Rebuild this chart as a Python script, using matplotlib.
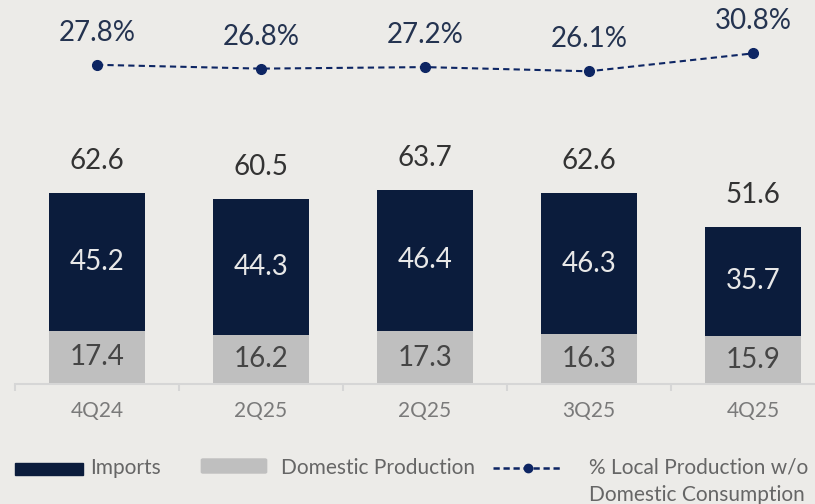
import numpy as np
import matplotlib.pyplot as plt
from matplotlib.patches import Rectangle, FancyBboxPatch
from matplotlib.lines import Line2D
from matplotlib import font_manager

quarters = ['4Q24', '2Q25', '2Q25', '3Q25', '4Q25']
imports = [45.2, 44.3, 46.4, 46.3, 35.7]
domestic = [17.4, 16.2, 17.3, 16.3, 15.9]
totals = [62.6, 60.5, 63.7, 62.6, 51.6]
local_pct = [27.8, 26.8, 27.2, 26.1, 30.8]

names = {f.name for f in font_manager.fontManager.ttflist}
num_font = ['Lato', 'DejaVu Sans'] if 'Lato' in names else ['DejaVu Sans']
leg_font = num_font

navy = '#0b1c3c'
gray = '#bfbfbf'
line_c = '#0d2563'
bg = '#ecebe8'

W, H = 815, 504
fig = plt.figure(figsize=(W / 100, H / 100), dpi=100, facecolor=bg)

# bar axes: x from 15px, 164px per category, baseline at 384px, 3.05 px/unit
left = 15 / W
width = 820 / W
bottom = (H - 384) / H
height = 305 / H
ax = fig.add_axes([left, bottom, width, height])
ax.set_facecolor('none')
x = np.arange(len(quarters))
ax.bar(x, domestic, width=0.59, color=gray, zorder=2)
ax.bar(x, imports, width=0.59, bottom=domestic, color=navy, zorder=2)
ax.set_xlim(-0.5, len(quarters) - 0.5)
ax.set_ylim(0, 100)

for i in range(len(quarters)):
    ax.text(x[i], domestic[i] / 2, f'{domestic[i]:.1f}', ha='center', va='center',
            fontsize=20, color='#454545', family=num_font)
    ax.text(x[i], domestic[i] + imports[i] / 2, f'{imports[i]:.1f}', ha='center', va='center',
            fontsize=20, color='#e8e8e8', family=num_font)
    ax.annotate(f'{totals[i]:.1f}', (x[i], domestic[i] + imports[i]), xytext=(0, 32),
                textcoords='offset pixels', ha='center', va='center',
                fontsize=20, color='#333333', family=num_font)

for s in ['top', 'right', 'left']:
    ax.spines[s].set_visible(False)
ax.spines['bottom'].set_color('#d6d6d6')
ax.spines['bottom'].set_linewidth(1.5)
ax.set_yticks([])
ax.set_xticks(x)
ax.set_xticklabels(quarters, family=num_font, fontsize=15, color='#7a7a7a')
ax.tick_params(axis='x', which='major', length=0, pad=12)
ax.set_xticks(np.arange(-0.5, len(quarters), 1), minor=True)
ax.tick_params(axis='x', which='minor', length=5, color='#d6d6d6', width=1.5)

# line axes at top
ax2 = fig.add_axes([left, (H - 85) / H, width, 40 / H])
ax2.set_facecolor('none')
ax2.plot(x, local_pct, color=line_c, linestyle=(0, (3, 2)), linewidth=1.5,
         marker='o', markersize=7, zorder=3)
ax2.set_xlim(-0.5, len(quarters) - 0.5)
ax2.set_ylim(22.5, 33.0)
ax2.axis('off')
for i, v in enumerate(local_pct):
    ax2.annotate(f'{v:.1f}%', (x[i], v), xytext=(0, 32), textcoords='offset pixels',
                 ha='center', va='center', fontsize=20, color='#243350',
                 family=num_font, annotation_clip=False)

# legend drawn by hand
ty = (H - 468) / H
fig.patches.append(Rectangle((15 / W, (H - 475) / H), 68 / W, 12 / H,
                             transform=fig.transFigure, color=navy))
fig.text(90 / W, ty, 'Imports', ha='left', va='center',
         fontsize=15, color='#666666', family=leg_font)
fig.patches.append(FancyBboxPatch((203 / W, (H - 472) / H), 62 / W, 12 / H,
                                  boxstyle='round,pad=0.002', transform=fig.transFigure,
                                  color=gray))
fig.text(281 / W, ty, 'Domestic Production', ha='left', va='center',
         fontsize=15, color='#666666', family=leg_font)
fig.lines.append(Line2D([493 / W, 562 / W], [ty] * 2, transform=fig.transFigure,
                        color=line_c, linestyle=(0, (2.5, 1.5)), linewidth=1.8))
fig.lines.append(Line2D([528 / W], [ty], transform=fig.transFigure,
                        color=line_c, marker='o', markersize=6))
fig.text(589 / W, ty, '% Local Production w/o', ha='left', va='center',
         fontsize=15, color='#666666', family=leg_font)
fig.text(589 / W, (H - 495) / H, 'Domestic Consumption', ha='left', va='center',
         fontsize=15, color='#666666', family=leg_font)

fig.savefig('out.png', dpi=100, facecolor=bg)
